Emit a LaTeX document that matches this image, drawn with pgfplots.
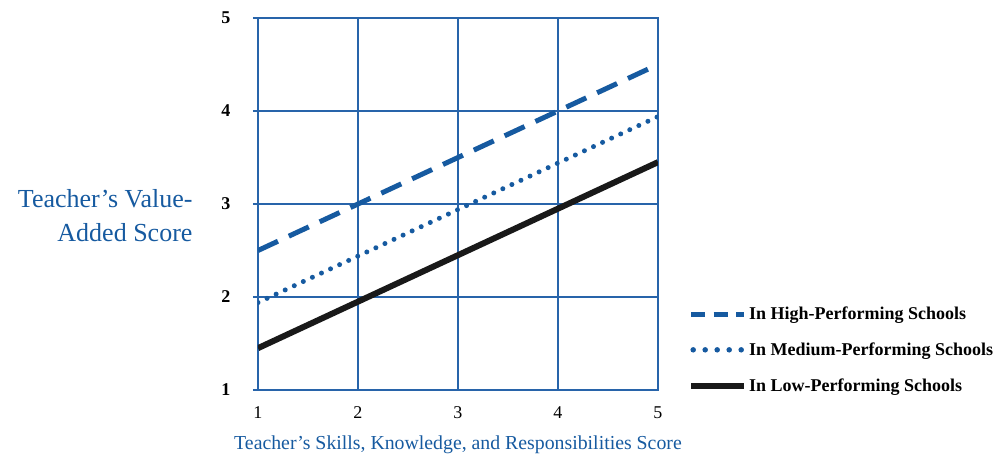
\documentclass[border=0pt]{standalone}
\usepackage{pgfplots}
\pgfplotsset{compat=1.18}
\usepackage{fontspec}
\setmainfont{Liberation Serif}
\definecolor{mainblue}{RGB}{22,90,160}
\definecolor{gridblue}{RGB}{40,100,170}
\pgfplotsset{
  hilegend/.style={legend image code/.code={\draw[##1, dash pattern=on 14pt off 8.5pt] (0pt,0pt) -- (53pt,0pt);}},
  medlegend/.style={legend image code/.code={\draw[##1, line width=5.5pt, dash pattern=on 0pt off 12pt] (2pt,0pt) -- (51pt,0pt);}},
}
\begin{document}
\begin{tikzpicture}
\begin{axis}[
  at={(0pt,0pt)}, anchor=south west,
  scale only axis, width=400pt, height=372pt,
  xmin=1, xmax=5, ymin=1, ymax=5,
  xtick={1,2,3,4,5}, ytick={1,2,3,4,5},
  ytick pos=left,
  grid=major,
  grid style={gridblue, line width=1.6pt},
  axis line style={gridblue, line width=1.6pt},
  major tick length=5pt,
  xtick style={draw=none},
  ytick style={gridblue, line width=1.6pt},
  tick align=outside,
  yticklabel style={font=\fontsize{18}{18}\selectfont\bfseries, xshift=-19pt},
  xticklabel style={font=\fontsize{18}{18}\selectfont, yshift=-8pt},
  /pgf/number format/assume math mode=true,
  xlabel={Teacher’s Skills, Knowledge, and Responsibilities Score},
  xlabel style={font=\fontsize{19.8}{20}\selectfont, text=mainblue, at={(axis description cs:0.5,0)}, anchor=center, yshift=-55pt},
  ylabel={Teacher’s Value-\\Added Score},
  ylabel style={font=\fontsize{26}{34}\selectfont, text=mainblue, align=right, rotate=-90, at={(axis description cs:0,0.468)}, anchor=east, xshift=-62pt},
  legend style={draw=none, fill=none, at={(1.075,0.108)}, anchor=west, inner sep=0pt, row sep=17.5pt,
    font=\fontsize{18}{18}\selectfont\bfseries, cells={anchor=west}},
  legend cell align=left,
  legend image code/.code={\draw[#1] (0pt,0pt) -- (53pt,0pt);},
]
\addplot[mainblue, line width=5pt, dash pattern=on 22pt off 12pt, hilegend] coordinates {(1,2.5) (5,4.5)};
\addlegendentry{In High-Performing Schools}
\addplot[mainblue, line width=5pt, line cap=round, dash pattern=on 0pt off 10pt, medlegend] coordinates {(1,1.94) (5,3.94)};
\addlegendentry{In Medium-Performing Schools}
\addplot[black!90, line width=6pt] coordinates {(1,1.45) (5,3.45)};
\addlegendentry{In Low-Performing Schools}
\end{axis}
\pgfresetboundingbox
\path (-258pt,-66pt) rectangle (744pt,390pt);
\end{tikzpicture}
\end{document}
